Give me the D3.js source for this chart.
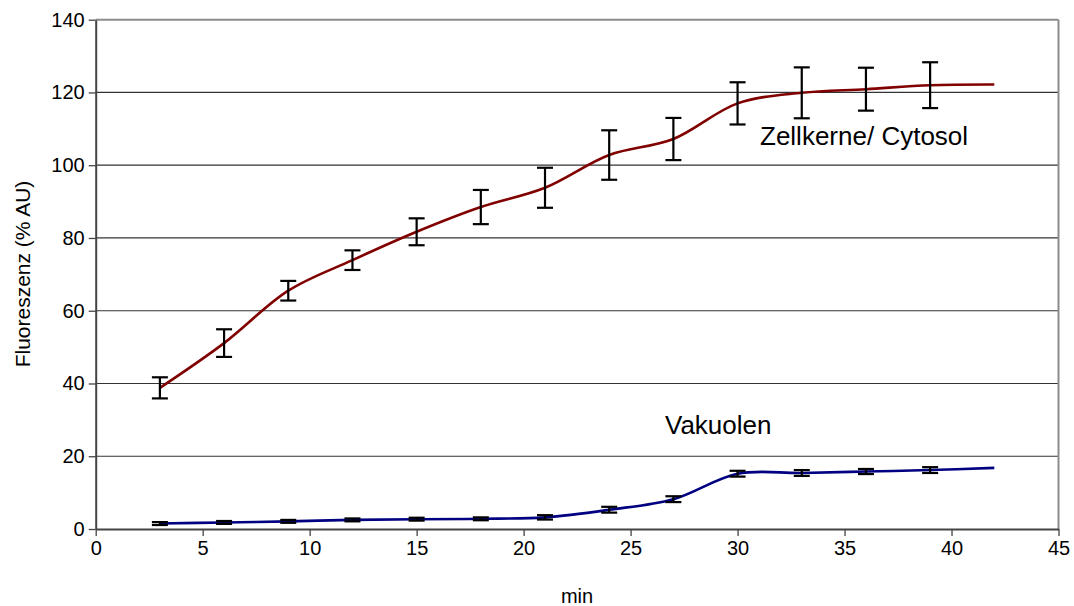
<!DOCTYPE html>
<html>
<head>
<meta charset="utf-8">
<script src="https://cdn.jsdelivr.net/npm/d3@7"></script>
<style>
  body { margin: 0; background: #fff; }
  text { font-family: "Liberation Sans", Arial, sans-serif; }
</style>
</head>
<body>
<svg id="chart" width="1074" height="606"></svg>
<script>
// values
var time = [3, 6, 9, 12, 15, 18, 21, 24, 27, 30, 33, 36, 39, 42];
var zellMean = [38.8, 51.1, 65.5, 73.9, 81.7, 88.5, 93.8, 102.8, 107.2, 117.0, 119.9, 120.9, 122.0, 122.2];
var zellErr = [2.9, 3.8, 2.7, 2.7, 3.7, 4.7, 5.5, 6.8, 5.8, 5.8, 7.0, 5.9, 6.3, null];
var vakMean = [1.5, 1.8, 2.1, 2.5, 2.7, 2.8, 3.2, 5.3, 8.2, 15.2, 15.4, 15.8, 16.2, 16.8];
var vakErr = [0.4, 0.4, 0.4, 0.4, 0.4, 0.4, 0.6, 0.8, 0.8, 0.8, 0.8, 0.7, 0.8, null];
var xTicks = [0, 5, 10, 15, 20, 25, 30, 35, 40, 45];
var yTicks = [0, 20, 40, 60, 80, 100, 120, 140];

var svg = d3.select("#chart");
var plotL = 95.7, plotR = 1058.5, plotT = 19.7, plotB = 529;

var x = d3.scaleLinear().domain([0, 45]).range([plotL, plotR]);
var y = d3.scaleLinear().domain([0, 140]).range([plotB, plotT]);

// gridlines
svg.append("g")
    .selectAll("line")
    .data(yTicks.filter(function (d) { return d > 0 && d < 140; }))
    .enter().append("line")
    .attr("x1", plotL).attr("x2", plotR)
    .attr("y1", function (d) { return y(d); })
    .attr("y2", function (d) { return y(d); })
    .attr("stroke", "#333")
    .attr("stroke-width", 1.2);

// plot border top / right
svg.append("line").attr("x1", plotL).attr("x2", plotR).attr("y1", plotT).attr("y2", plotT)
    .attr("stroke", "#8c8c8c").attr("stroke-width", 2);
svg.append("line").attr("x1", plotR).attr("x2", plotR).attr("y1", plotT).attr("y2", plotB)
    .attr("stroke", "#8c8c8c").attr("stroke-width", 2);

// axes
var xAxis = svg.append("g")
    .attr("transform", "translate(0," + plotB + ")")
    .call(d3.axisBottom(x).tickValues(xTicks).tickSize(7).tickSizeOuter(0).tickPadding(5));
var yAxis = svg.append("g")
    .attr("transform", "translate(" + plotL + ",0)")
    .call(d3.axisLeft(y).tickValues(yTicks).tickSize(7).tickSizeOuter(0).tickPadding(4));

[xAxis, yAxis].forEach(function (ax) {
    ax.attr("font-size", 20).attr("font-family", "Liberation Sans, Arial, sans-serif");
    ax.select(".domain").attr("stroke", "#444").attr("stroke-width", 2);
    ax.selectAll(".tick line").attr("stroke", "#444").attr("stroke-width", 1.3);
    ax.selectAll(".tick text").attr("fill", "#000");
});

// axis titles
svg.append("text")
    .attr("x", 577).attr("y", 603)
    .attr("text-anchor", "middle")
    .attr("font-size", 20)
    .text("min");
svg.append("text")
    .attr("transform", "translate(30,274) rotate(-90)")
    .attr("text-anchor", "middle")
    .attr("font-size", 21)
    .text("Fluoreszenz (% AU)");

function drawSeries(means, errs, color) {
    var pts = time.map(function (t, i) { return { t: t, m: means[i], e: errs[i] }; });
    var line = d3.line()
        .x(function (d) { return x(d.t); })
        .y(function (d) { return y(d.m); })
        .curve(d3.curveCatmullRom.alpha(0.5));
    svg.append("path")
        .datum(pts)
        .attr("d", line)
        .attr("fill", "none")
        .attr("stroke", color)
        .attr("stroke-width", 2.6);

    var bars = svg.append("g")
        .selectAll("g")
        .data(pts.filter(function (d) { return d.e != null; }))
        .enter().append("g")
        .attr("stroke", "#000")
        .attr("stroke-width", 2.2);
    bars.append("line")
        .attr("x1", function (d) { return x(d.t); })
        .attr("x2", function (d) { return x(d.t); })
        .attr("y1", function (d) { return y(d.m - d.e); })
        .attr("y2", function (d) { return y(d.m + d.e); });
    bars.append("line")
        .attr("x1", function (d) { return x(d.t) - 8; })
        .attr("x2", function (d) { return x(d.t) + 8; })
        .attr("y1", function (d) { return y(d.m + d.e); })
        .attr("y2", function (d) { return y(d.m + d.e); });
    bars.append("line")
        .attr("x1", function (d) { return x(d.t) - 8; })
        .attr("x2", function (d) { return x(d.t) + 8; })
        .attr("y1", function (d) { return y(d.m - d.e); })
        .attr("y2", function (d) { return y(d.m - d.e); });
}

drawSeries(zellMean, zellErr, "#800000");
drawSeries(vakMean, vakErr, "#000080");

// series labels
svg.append("text")
    .attr("x", 760).attr("y", 145)
    .attr("font-size", 26)
    .text("Zellkerne/ Cytosol");
svg.append("text")
    .attr("x", 665).attr("y", 434)
    .attr("font-size", 26)
    .text("Vakuolen");
</script>
</body>
</html>
